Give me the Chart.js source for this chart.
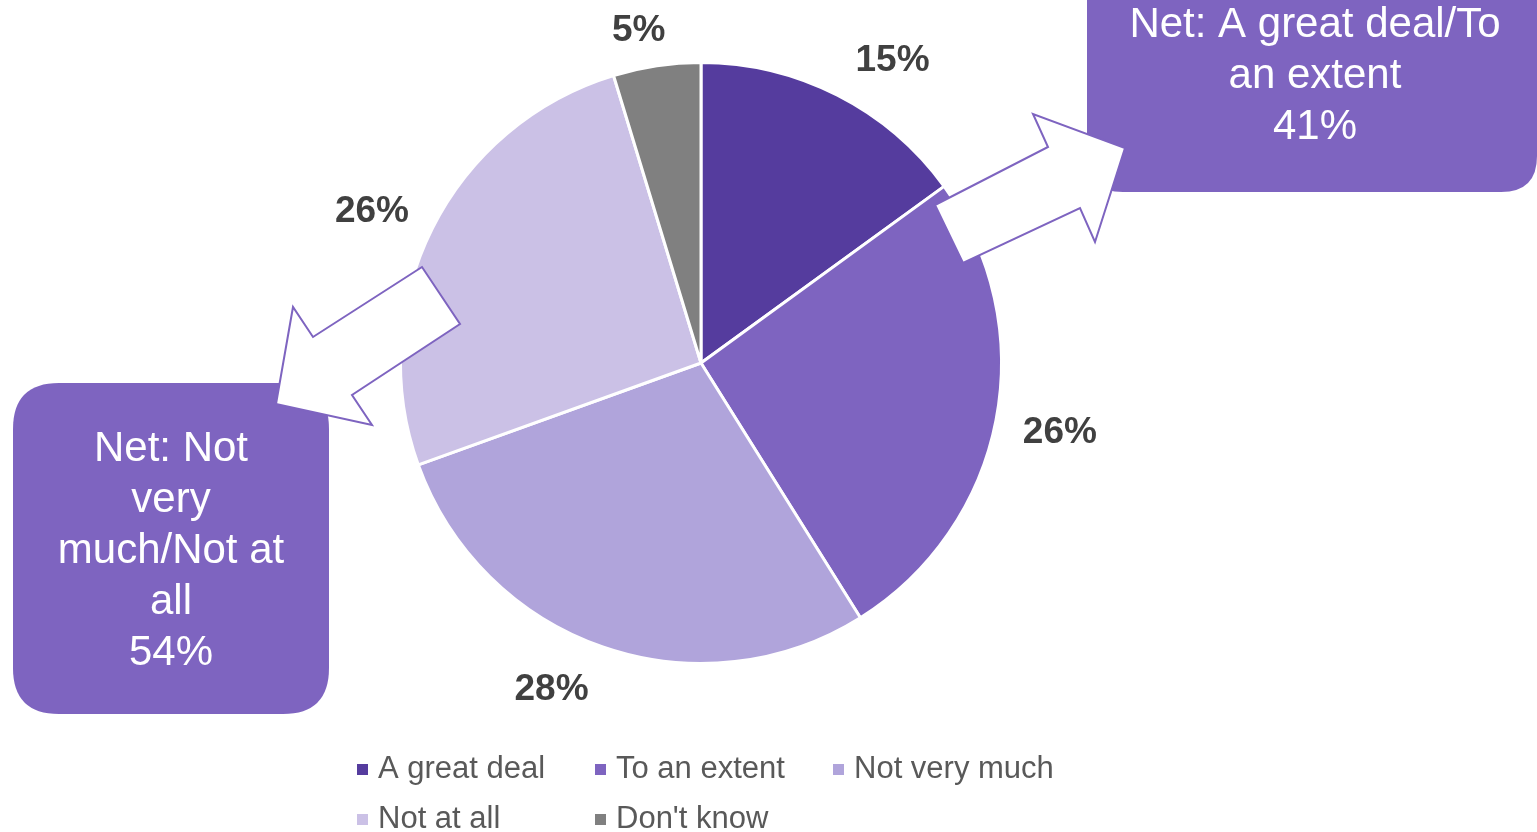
<!DOCTYPE html>
<html>
<head>
<meta charset="utf-8">
<script src="https://cdn.jsdelivr.net/npm/chart.js@4/dist/chart.umd.min.js"></script>
<style>
    body { margin: 0; background: #fff; }
    #wrap { position: relative; width: 1537px; height: 832px; }
</style>
</head>
<body>
<div id="wrap"><canvas id="pieChart"></canvas></div>
<script>
const categories = ["A great deal", "To an extent", "Not very much", "Not at all", "Don't know"];
const shares = [15, 26.1, 28.4, 25.8, 4.7];
const sliceColors = ["#553c9e", "#7e64c0", "#b0a4db", "#cbc1e6", "#808080"];
const netAgree = ["Net: A great deal/To", "an extent", "41%"];
const netDisagree = ["Net: Not", "very", "much/Not at", "all", "54%"];

// small nudges for the value labels, like Excel's best fit placement
const labelNudge = [[27, 21], [3, 1], [-31, -16], [-5, 11], [-9, 26]];

const calloutColor = "#7e64c0";
const fontFamily = "'Liberation Sans', Arial, sans-serif";

function roundRect(ctx, x, y, w, h, r) {
    ctx.beginPath();
    ctx.moveTo(x + r, y);
    ctx.lineTo(x + w - r, y);
    ctx.quadraticCurveTo(x + w, y, x + w, y + r);
    ctx.lineTo(x + w, y + h - r);
    ctx.quadraticCurveTo(x + w, y + h, x + w - r, y + h);
    ctx.lineTo(x + r, y + h);
    ctx.quadraticCurveTo(x, y + h, x, y + h - r);
    ctx.lineTo(x, y + r);
    ctx.quadraticCurveTo(x, y, x + r, y);
    ctx.closePath();
}

function drawArrow(ctx, pts) {
    ctx.beginPath();
    ctx.moveTo(pts[0][0], pts[0][1]);
    for (let i = 1; i < pts.length; i++) {
        ctx.lineTo(pts[i][0], pts[i][1]);
    }
    ctx.closePath();
    ctx.fillStyle = "#fff";
    ctx.fill();
    ctx.lineWidth = 2;
    ctx.strokeStyle = calloutColor;
    ctx.stroke();
}

function drawLines(ctx, lines, cx, firstY, step) {
    ctx.fillStyle = "#fff";
    ctx.font = "42px " + fontFamily;
    ctx.textAlign = "center";
    ctx.textBaseline = "middle";
    lines.forEach((t, i) => ctx.fillText(t, cx, firstY + i * step));
}

// Percent labels, callouts and legend
const extras = {
    id: "extras",
    afterDraw(chart) {
        const ctx = chart.ctx;
        const arcs = chart.getDatasetMeta(0).data;
        ctx.save();

        // Value labels outside each slice
        ctx.font = "bold 37px " + fontFamily;
        ctx.fillStyle = "#404040";
        ctx.textAlign = "center";
        ctx.textBaseline = "middle";
        arcs.forEach((arc, i) => {
            const mid = (arc.startAngle + arc.endAngle) / 2;
            const r = arc.outerRadius + 62;
            const x = arc.x + Math.cos(mid) * r + labelNudge[i][0];
            const y = arc.y + Math.sin(mid) * r + labelNudge[i][1];
            ctx.fillText(Math.round(shares[i]) + "%", x, y);
        });

        // Right callout
        ctx.fillStyle = calloutColor;
        roundRect(ctx, 1087, -60, 450, 252, 36);
        ctx.fill();
        drawArrow(ctx, [[935, 205], [1048, 147], [1033, 114], [1125, 148], [1095, 242], [1080, 208], [963, 263]]);
        drawLines(ctx, netAgree, 1315, 25, 51);

        // Left callout
        ctx.fillStyle = calloutColor;
        roundRect(ctx, 13, 383, 316, 331, 46);
        ctx.fill();
        drawArrow(ctx, [[422, 267], [313, 337], [293, 307], [276, 404], [372, 425], [352, 395], [460, 324]]);
        drawLines(ctx, netDisagree, 171, 449, 51);

        // Legend
        ctx.font = "31px " + fontFamily;
        ctx.textAlign = "left";
        ctx.textBaseline = "middle";
        categories.forEach((name, i) => {
            const col = i % 3;
            const row = Math.floor(i / 3);
            const x = 357 + col * 238;
            const y = 769 + row * 50;
            ctx.fillStyle = sliceColors[i];
            ctx.fillRect(x, y - 5, 11, 11);
            ctx.fillStyle = "#595959";
            ctx.fillText(name, x + 21, y);
        });

        ctx.restore();
    }
};

const ctx = document.getElementById("pieChart").getContext("2d");
new Chart(ctx, {
    type: "pie",
    data: {
        labels: categories,
        datasets: [{
            data: shares,
            backgroundColor: sliceColors,
            borderColor: "#fff",
            borderWidth: 3
        }]
    },
    options: {
        responsive: true,
        maintainAspectRatio: false,
        animation: false,
        layout: {
            padding: { left: 399, right: 534, top: 61, bottom: 167 }
        },
        plugins: {
            legend: { display: false },
            tooltip: { enabled: false }
        }
    },
    plugins: [extras]
});
</script>
</body>
</html>
